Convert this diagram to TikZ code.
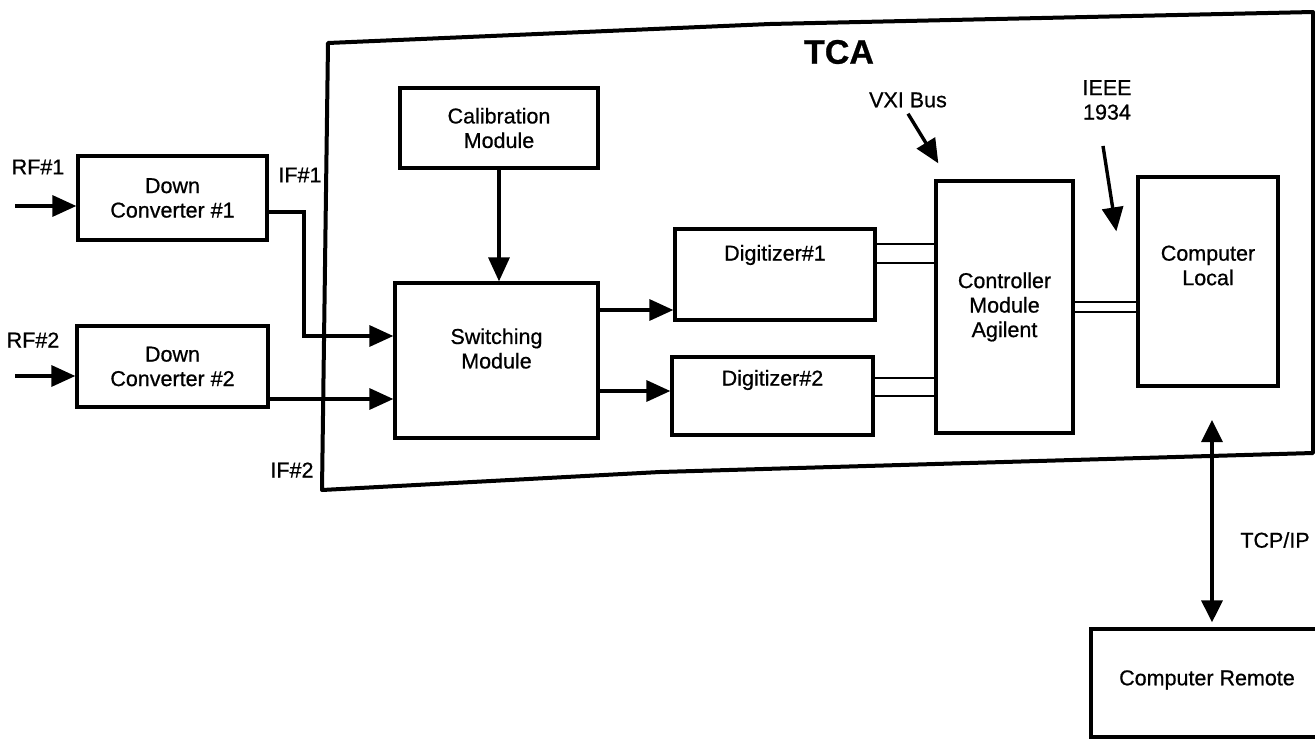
\documentclass[tikz,border=0pt]{standalone}
\usepackage{fontspec}
\setmainfont[FakeBold=0.7]{Liberation Sans}
\usetikzlibrary{arrows.meta,calc}
\newcommand\figfont{\fontsize{21.5}{24.5}\selectfont}

\begin{document}
\begin{tikzpicture}[x=1pt,y=-1pt,
  box/.style={draw,rectangle,line width=3.3pt,inner sep=0pt,align=center,font=\figfont},
  lab/.style={inner sep=0pt,align=center,font=\figfont},
  conn/.style={line width=3.4pt,-{Triangle[length=24pt,width=21pt]}},
  conn2/.style={line width=3.4pt,{Triangle[length=22pt,width=21pt]}-{Triangle[length=22pt,width=21pt]}},
  bus/.style={line width=2.8pt},
  frame/.style={line width=4pt,line join=round}]

\fill[white] (0,0) rectangle (1315,739);
\clip (0,0) rectangle (1315,739);

% TCA enclosure
\coordinate (fTL) at (328,43);
\coordinate (fTM) at (770,24);
\coordinate (fTR) at (1313,12);
\coordinate (fBR) at (1313,453);
\coordinate (fBM) at (660,472);
\coordinate (fBL) at (322,490);
\draw[frame] (fTL) -- (fTM) -- (fTR) -- (fBR) -- (fBM) -- (fBL) -- cycle;
\node[lab,font=\bfseries\fontsize{34}{34}\selectfont] (tca) at (839,52) {TCA};

% blocks
\node[box,minimum width=189pt,minimum height=84pt] (dc1) at (172.5,198) {Down\\Converter \#1};
\node[box,minimum width=191pt,minimum height=81pt] (dc2) at (172.5,366.5) {Down\\Converter \#2};
\node[box,minimum width=198pt,minimum height=80pt] (cal) at (499,128) {Calibration\\Module};
\node[box,minimum width=203pt,minimum height=155pt,
      label={[lab,yshift=12pt]center:{Switching\\Module}}] (sw) at (496.5,360.5) {};
\node[box,minimum width=200pt,minimum height=91pt,
      label={[lab,yshift=19.5pt]center:{Digitizer\#1}}] (dig1) at (775,274.5) {};
\node[box,minimum width=201pt,minimum height=78pt,
      label={[lab,yshift=16pt]center:{Digitizer\#2}}] (dig2) at (772.5,396) {};
\node[box,minimum width=137pt,minimum height=252pt] (ctrl) at (1004.5,307) {Controller\\Module\\Agilent};
\node[box,minimum width=140pt,minimum height=209pt,
      label={[lab,yshift=16pt]center:{Computer\\Local}}] (loc) at (1208,281.5) {};
\node[box,minimum width=232pt,minimum height=108pt,
      label={[lab,yshift=3pt]center:{Computer Remote}}] (rem) at (1207,683) {};

% labels
\node[lab] (rf1) at (38,167) {RF\#1};
\node[lab] (rf2) at (33,340) {RF\#2};
\node[lab] (if1l) at (300,175) {IF\#1};
\node[lab] (if2l) at (292,470) {IF\#2};
\node[lab] (vxi) at (908,100) {VXI Bus};
\node[lab] (ieee) at (1107,100) {IEEE\\1934};
\node[lab] (tcp) at (1275,540) {TCP/IP};

% RF inputs
\coordinate (rf1in) at (15,206);
\coordinate (rf2in) at (15,376);
\draw[conn] (rf1in) -- (rf1in -| dc1.west);
\draw[conn] (rf2in) -- (rf2in -| dc2.west);

% IF paths into the switching module
\coordinate (if1bend) at (304,336);
\coordinate (if2y) at (0,399);
\draw[conn] ($(dc1.east)+(0,14)$) -| (if1bend) -- (if1bend -| sw.west);
\draw[conn] (dc2.east |- if2y) -- (sw.west |- if2y);

% calibration feed
\draw[conn] (cal.south) -- (cal.south |- sw.north);

% switching module to digitizers
\coordinate (s1y) at (0,310);
\coordinate (s2y) at (0,391);
\draw[conn] (sw.east |- s1y) -- (dig1.west |- s1y);
\draw[conn] (sw.east |- s2y) -- (dig2.west |- s2y);

% VXI bus pairs
\coordinate (b1a) at (0,244);
\coordinate (b1b) at (0,263);
\coordinate (b2a) at (0,378);
\coordinate (b2b) at (0,396);
\draw[bus] (dig1.east |- b1a) -- (ctrl.west |- b1a);
\draw[bus] (dig1.east |- b1b) -- (ctrl.west |- b1b);
\draw[bus] (dig2.east |- b2a) -- (ctrl.west |- b2a);
\draw[bus] (dig2.east |- b2b) -- (ctrl.west |- b2b);

% IEEE 1394 pair
\coordinate (b3a) at (0,302);
\coordinate (b3b) at (0,312);
\draw[bus] (ctrl.east |- b3a) -- (loc.west |- b3a);
\draw[bus] (ctrl.east |- b3b) -- (loc.west |- b3b);

% bus callouts
\draw[conn] ($(vxi.south)+(0,6)$) -- ($(ctrl.north west)+(4,-16)$);
\draw[conn] ($(ieee.south)+(-4,26)$) -- ($(loc.north west)+(-20,56)$);

% TCP/IP link
\coordinate (tcpup) at (1212,420);
\draw[conn2,shorten >=5pt] (tcpup) -- (tcpup |- rem.north);

\end{tikzpicture}
\end{document}
